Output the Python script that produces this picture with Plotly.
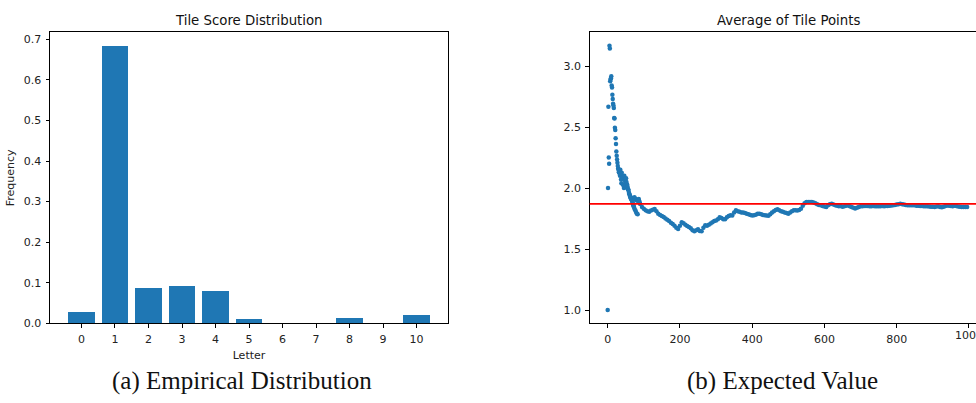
import plotly.graph_objects as go

# ---- data -------------------------------------------------------------
letters = list(range(11))
frequency = [0.026, 0.683, 0.086, 0.090, 0.079, 0.009, 0.0, 0.0, 0.013, 0.0, 0.020]

# running average of drawn tile points: first draws one by one
early_draws = list(range(90))
early_average = [
    1.000, 2.000, 2.667, 2.250, 2.200, 3.167, 3.143, 2.875, 2.889, 2.900,
    2.917, 2.840, 2.824, 2.764, 2.730, 2.690, 2.676, 2.657, 2.574, 2.570,
    2.494, 2.475, 2.408, 2.360, 2.300, 2.265, 2.233, 2.207, 2.180, 2.160,
    2.150, 2.130, 2.150, 2.120, 2.100, 2.150, 2.120, 2.070, 2.040, 2.126,
    2.100, 2.080, 2.030, 2.086, 2.020, 2.000, 2.100, 2.070, 2.060, 2.040,
    2.020, 2.080, 2.050, 2.006, 2.030, 2.010, 1.990, 1.990, 1.975, 1.960,
    1.950, 1.945, 1.930, 1.925, 1.915, 1.910, 1.920, 1.900, 1.890, 1.880,
    1.870, 1.860, 1.850, 1.840, 1.925, 1.825, 1.915, 1.815, 1.905, 1.800,
    1.900, 1.790, 1.895, 1.785, 1.905, 1.900, 1.910, 1.895, 1.885, 1.875,
]

# later draws, every fifth one
late_draws = list(range(90, 1000, 5))
late_average = [
    1.870, 1.845, 1.830, 1.818, 1.810, 1.805, 1.815, 1.822, 1.828, 1.810,
    1.790, 1.780, 1.770, 1.762, 1.750, 1.740, 1.730, 1.715, 1.705, 1.690,
    1.675, 1.665, 1.690, 1.720, 1.712, 1.700, 1.688, 1.680, 1.670, 1.655,
    1.645, 1.655, 1.662, 1.648, 1.645, 1.675, 1.695, 1.690, 1.700, 1.710,
    1.720, 1.730, 1.735, 1.745, 1.760, 1.755, 1.745, 1.745, 1.760, 1.770,
    1.778, 1.775, 1.800, 1.818, 1.810, 1.805, 1.800, 1.800, 1.795, 1.790,
    1.785, 1.780, 1.775, 1.778, 1.782, 1.790, 1.790, 1.785, 1.780, 1.778,
    1.775, 1.772, 1.785, 1.800, 1.810, 1.820, 1.826, 1.818, 1.810, 1.805,
    1.800, 1.795, 1.790, 1.800, 1.810, 1.818, 1.818, 1.815, 1.820, 1.830,
    1.855, 1.875, 1.885, 1.885, 1.885, 1.885, 1.882, 1.875, 1.868, 1.862,
    1.858, 1.852, 1.848, 1.845, 1.860, 1.868, 1.872, 1.866, 1.860, 1.855,
    1.850, 1.852, 1.847, 1.850, 1.855, 1.858, 1.850, 1.845, 1.838, 1.833,
    1.838, 1.845, 1.850, 1.850, 1.852, 1.853, 1.852, 1.850, 1.850, 1.852,
    1.850, 1.850, 1.850, 1.850, 1.852, 1.850, 1.852, 1.853, 1.855, 1.857,
    1.860, 1.862, 1.865, 1.868, 1.871, 1.868, 1.865, 1.862, 1.860, 1.858,
    1.858, 1.858, 1.858, 1.855, 1.855, 1.852, 1.852, 1.850, 1.850, 1.850,
    1.848, 1.847, 1.846, 1.845, 1.848, 1.850, 1.845, 1.843, 1.847, 1.852,
    1.856, 1.855, 1.852, 1.850, 1.855, 1.852, 1.848, 1.846, 1.845, 1.845,
    1.845, 1.845,
]

expected_value = 1.87

x_ticks_right = [0, 200, 400, 600, 800, 1000]
y_ticks_left = [0.0, 0.1, 0.2, 0.3, 0.4, 0.5, 0.6, 0.7]
y_ticks_right = [1.0, 1.5, 2.0, 2.5, 3.0]

# ---- figure -----------------------------------------------------------
W, H = 976, 403
BLUE = "#1f77b4"
TEXT = "#222222"
TICK_FONT = dict(family="DejaVu Sans", size=11, color=TEXT)
LABEL_FONT = dict(family="DejaVu Sans", size=11, color=TEXT)
TITLE_FONT = dict(family="DejaVu Sans", size=13.3, color="#111111")
CAPTION_FONT = dict(family="Liberation Serif", size=25, color="#111111")


def px_x(p):
    return p / W


def px_y(p):
    return 1 - p / H


draws = early_draws + late_draws
averages = early_average + late_average

fig = go.Figure()
fig.add_trace(go.Bar(
    x=letters, y=frequency, width=0.8, marker=dict(color=BLUE, line=dict(width=0)),
    xaxis="x", yaxis="y", showlegend=False,
))
fig.add_trace(go.Scatter(
    x=draws, y=averages, mode="markers",
    marker=dict(color=BLUE, size=4.5, line=dict(width=0)),
    xaxis="x2", yaxis="y2", showlegend=False,
))

fig.add_shape(type="line", xref="x2 domain", yref="y2", x0=0, x1=1,
              y0=expected_value, y1=expected_value,
              line=dict(color="#ff0000", width=1.6), layer="above")

axis_common = dict(
    showline=True, linecolor="#000000", linewidth=1, showgrid=False,
    zeroline=False, ticks="outside", ticklen=3.5, tickwidth=0.8,
    tickcolor="#000000", tickfont=TICK_FONT,
)

ydom = [px_y(329), px_y(33)]
x_max = max(draws)
ymin, ymax = min(averages), max(averages)
ypad = (ymax - ymin) * 0.05

# the last tick label of the right panel runs past the page edge; the axis
# would drop it, so it is written as a text label and simply cut by the edge
last_tick = x_ticks_right[-1]

fig.update_layout(
    width=W, height=H, margin=dict(l=0, r=0, t=0, b=0),
    paper_bgcolor="white", plot_bgcolor="white",
    bargap=0,
    xaxis=dict(axis_common, domain=[px_x(50), px_x(448)], range=[-0.94, 10.94],
               tickvals=letters, mirror=True, anchor="y", ticklabelstandoff=2,
               title=dict(text="Letter", font=LABEL_FONT, standoff=6)),
    yaxis=dict(axis_common, domain=ydom, range=[0, max(frequency) * 1.05],
               tickvals=y_ticks_left, tickformat=".1f", mirror=True, anchor="x",
               ticklabelstandoff=2,
               title=dict(text="Frequency", font=LABEL_FONT, standoff=6)),
    xaxis2=dict(axis_common, domain=[px_x(589.7), 1.0],
                range=[-x_max * 0.05, (976 - 607.7) / 0.36125],
                tickvals=x_ticks_right, mirror=True, anchor="y2", ticklabelstandoff=2),
    yaxis2=dict(axis_common, domain=ydom, range=[ymin - ypad, ymax + ypad],
                tickvals=y_ticks_right, tickformat=".1f", mirror=False, anchor="x2",
                ticklabelstandoff=2),
    annotations=[
        dict(text="Tile Score Distribution", x=(px_x(50) + px_x(448)) / 2, y=px_y(20.5),
             xref="paper", yref="paper", showarrow=False, xanchor="center", yanchor="middle",
             font=TITLE_FONT),
        dict(text="Average of Tile Points", x=px_x(788), y=px_y(20.5),
             xref="paper", yref="paper", showarrow=False, xanchor="center", yanchor="middle",
             font=TITLE_FONT),
        dict(text=str(last_tick), x=last_tick, y=px_y(341), xref="x2", yref="paper",
             showarrow=False, xanchor="center", yanchor="middle", font=TICK_FONT),
        dict(text="(a) Empirical Distribution", x=px_x(242), y=px_y(388),
             xref="paper", yref="paper", showarrow=False, xanchor="center", yanchor="middle",
             font=CAPTION_FONT),
        dict(text="(b) Expected Value", x=px_x(782), y=px_y(388),
             xref="paper", yref="paper", showarrow=False, xanchor="center", yanchor="middle",
             font=CAPTION_FONT),
    ],
)

fig.write_html("out.html")
